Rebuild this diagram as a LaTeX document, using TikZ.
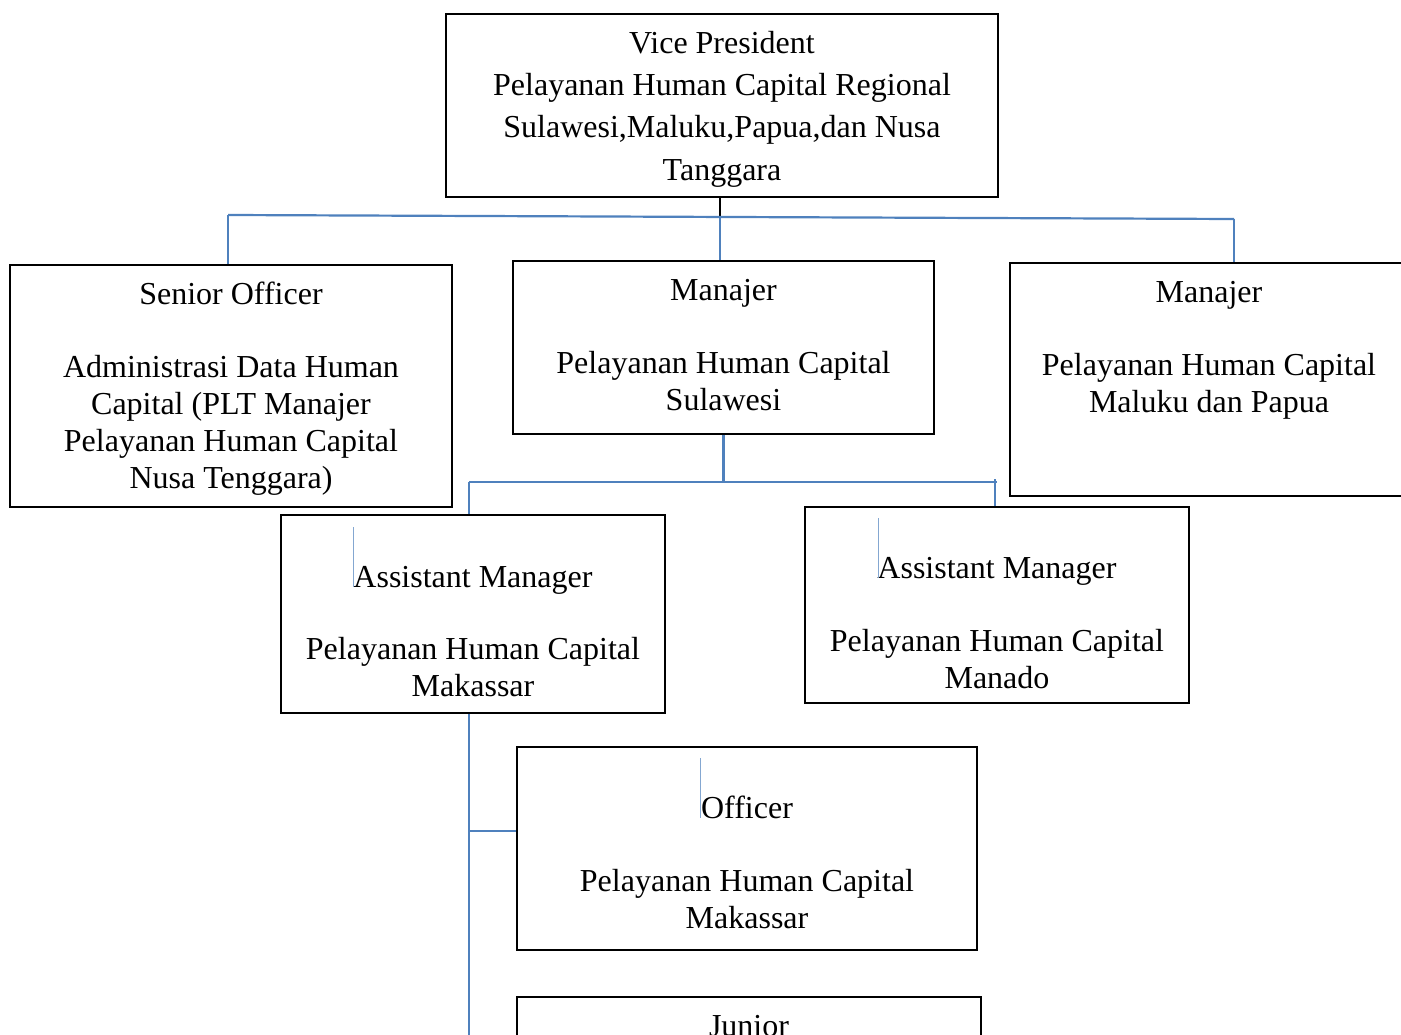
\documentclass[tikz,border=0pt]{standalone}
\usepackage{fontspec}
\setmainfont{Liberation Serif}
\usetikzlibrary{positioning}
\definecolor{linkblue}{HTML}{4F81BD}
\tikzset{
  unit/.style={draw, line width=2pt, anchor=north west, inner sep=0pt},
  txt/.style={inner sep=0pt, align=center, font=\fontsize{32}{37}\selectfont},
  link/.style={draw=linkblue, line width=2.2pt},
  caret/.style={draw=linkblue!70, line width=0.8pt}
}
\newcommand{\firstline}{\rule{0pt}{24pt}}
\begin{document}
\begin{tikzpicture}[x=1pt, y=1pt]
\useasboundingbox (0,0) rectangle (1401,-1035);
\begin{scope}
\clip (0,0) rectangle (1401,-1035);
% boxes
\node[unit, minimum width=552pt, minimum height=183pt] (vp) at (445,-13) {};
\node[unit, minimum width=442pt, minimum height=242pt] (so) at (9,-264) {};
\node[unit, minimum width=421pt, minimum height=173pt] (ms) at (512,-260) {};
\node[unit, minimum width=398pt, minimum height=233pt] (mm) at (1009,-262) {};
\node[unit, minimum width=384pt, minimum height=198pt] (amk) at (280,-514) {};
\node[unit, minimum width=384pt, minimum height=196pt] (amd) at (804,-506) {};
\node[unit, minimum width=460pt, minimum height=203pt] (off) at (516,-746) {};
\node[unit, minimum width=464pt, minimum height=100pt] (jun) at (516,-996) {};
% texts
\node[txt, font=\fontsize{32}{42.3}\selectfont, below=16pt of vp.north] (vp-t)
  {\firstline Vice President\\ Pelayanan Human Capital Regional\\ Sulawesi,Maluku,Papua,dan Nusa\\ Tanggara};
\node[txt, below=16pt of so.north] (so-t)
  {\firstline Senior Officer\\[36pt] Administrasi Data Human\\ Capital (PLT Manajer\\ Pelayanan Human Capital\\ Nusa Tenggara)};
\node[txt, below=16pt of ms.north] (ms-t)
  {\firstline Manajer\\[36pt] Pelayanan Human Capital\\ Sulawesi};
\node[txt, below=16pt of mm.north] (mm-t)
  {\firstline Manajer\\[36pt] Pelayanan Human Capital\\ Maluku dan Papua};
\node[txt, below=49pt of amk.north] (amk-t)
  {\firstline Assistant Manager\\[35pt] Pelayanan Human Capital\\ Makassar};
\node[txt, below=48pt of amd.north] (amd-t)
  {\firstline Assistant Manager\\[36pt] Pelayanan Human Capital\\ Manado};
\node[txt, below=48pt of off.north] (off-t)
  {\firstline Officer\\[36pt] Pelayanan Human Capital\\ Makassar};
\node[txt, below=16pt of jun.north] (jun-t) {\firstline Junior};
% connectors
\coordinate (busL) at (228,-215);
\coordinate (busM) at (720,-217);
\coordinate (busR) at (1234,-219);
\draw[line width=2pt] (vp.south -| busM) -- (busM);
\draw[link] (busL) -- (busR);
\draw[link] (busL) -- (busL |- so.north);
\draw[link] (busM) -- (busM |- ms.north);
\draw[link] (busR) -- (busR |- mm.north);
\coordinate (bus2L) at (469,-482);
\coordinate (bus2R) at (995,-482);
\draw[link] (ms.south) -- (ms.south |- bus2L);
\draw[link] (bus2L) -- ([xshift=2pt]bus2R);
\draw[link] (bus2L) -- (bus2L |- amk.north);
\draw[link] ([yshift=3pt]bus2R) -- (bus2R |- amd.north);
\coordinate (trunk) at (469,-1040);
\coordinate (br) at (469,-831);
\draw[link] (amk.south -| trunk) -- (trunk);
\draw[link] (br) -- (br -| off.west);
% cursor marks
\draw[caret] (353,-527) -- (353,-587);
\draw[caret] (878,-518) -- (878,-578);
\draw[caret] (700,-758) -- (700,-818);
\end{scope}
\end{tikzpicture}
\end{document}
